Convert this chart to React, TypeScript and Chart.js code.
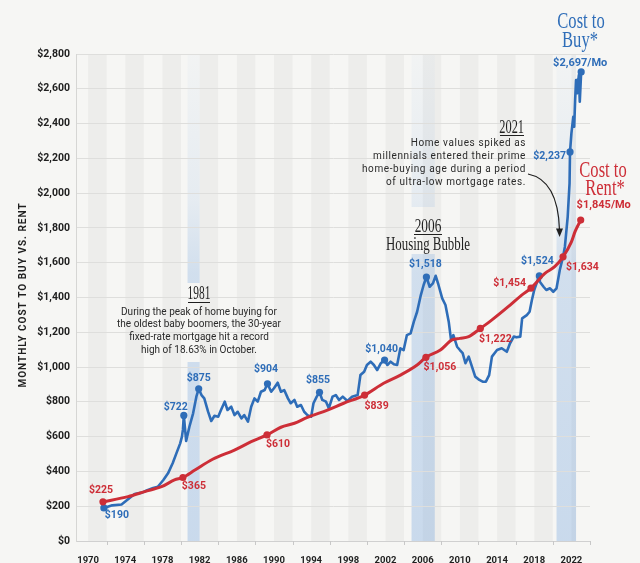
import React, { useEffect, useRef } from "react";
import { Chart, registerables } from "chart.js";

Chart.register(...registerables);

// ---------- DATA ----------
const buyYears = [
  1971.7, 1972.6, 1973.6, 1974.3, 1975.0, 1975.8, 1976.3, 1977.0, 1977.5, 1978.1,
  1978.6, 1979.1, 1979.5, 1979.9, 1980.1, 1980.2, 1980.3, 1980.55, 1980.9, 1981.3,
  1981.65, 1981.9, 1982.2, 1982.5, 1982.9, 1983.25, 1983.6, 1984.0, 1984.3, 1984.7,
  1985.0, 1985.4, 1985.75, 1986.1, 1986.5, 1986.8, 1987.2, 1987.55, 1987.9, 1988.25,
  1988.6, 1989.0, 1989.3, 1989.7, 1990.0, 1990.4, 1990.75, 1991.1, 1991.5, 1991.8,
  1992.2, 1992.5, 1992.9, 1993.25, 1993.6, 1994.0, 1994.25, 1994.6, 1994.9, 1995.2,
  1995.6, 1995.9, 1996.3, 1996.65, 1997.0, 1997.4, 1997.9, 1998.4, 1999.0, 1999.3,
  1999.7, 2000.0, 2000.4, 2000.75, 2001.1, 2001.5, 2001.9, 2002.2, 2002.55, 2002.9,
  2003.25, 2003.6, 2003.95, 2004.3, 2004.7, 2005.05, 2005.4, 2005.8, 2006.1, 2006.4,
  2006.75, 2007.1, 2007.4, 2007.7, 2008.1, 2008.45, 2008.8, 2009.05, 2009.3, 2009.7,
  2010.0, 2010.3, 2010.6, 2010.95, 2011.3, 2011.65, 2012.1, 2012.45, 2012.8, 2013.15,
  2013.45, 2014.0, 2014.5, 2015.05, 2015.4, 2015.8, 2016.1, 2016.5, 2016.7, 2017.2,
  2017.5, 2017.75, 2018.0, 2018.4, 2018.55, 2018.6, 2019.0, 2019.3, 2019.7, 2020.05,
  2020.4, 2020.75, 2021.1, 2021.3, 2021.6, 2021.8, 2021.85, 2022.0, 2022.2, 2022.3,
  2022.4, 2022.5, 2022.6, 2022.8, 2022.9, 2023.05,
];
const buyValues = [
  190, 205, 210, 240, 270, 278, 290, 305, 312, 351,
  389, 447, 504, 560, 600, 640, 722, 575, 657, 734,
  830, 875, 839, 820, 745, 690, 720, 715, 753, 801,
  753, 772, 724, 743, 705, 724, 686, 772, 820, 801,
  858, 868, 904, 858, 878, 910, 858, 868, 820, 792,
  811, 772, 782, 743, 724, 715, 792, 830, 855, 811,
  801, 763, 830, 839, 811, 830, 805, 830, 839, 954,
  973, 1012, 1031, 1012, 983, 1022, 1040, 1012, 1031, 1016,
  1012, 1108, 1098, 1184, 1194, 1261, 1318, 1414, 1472, 1518,
  1462, 1481, 1525, 1472, 1395, 1357, 1261, 1156, 1184, 1117,
  1098, 1080, 1022, 1060, 1002, 945, 926, 916, 916, 954,
  1060, 1098, 1108, 1088, 1137, 1175, 1171, 1175, 1280, 1299,
  1318, 1386, 1443, 1505, 1524, 1491, 1462, 1443, 1453, 1433,
  1453, 1558, 1634, 1692, 1864, 2056, 2237, 2344, 2439, 2382,
  2535, 2650, 2574, 2679, 2526, 2697,
];
const rentYears = [
  1971.6, 1974.3, 1976.1, 1977.9, 1979.3, 1980.2, 1981.5, 1983.4, 1985.75, 1987.55,
  1989.25, 1990.75, 1992.2, 1993.6, 1995.75, 1997.5, 1999.75, 2001.8, 2003.6, 2005.4,
  2006.35, 2007.9, 2009.15, 2010.0, 2010.95, 2012.2, 2013.45, 2015.2, 2016.65, 2017.65,
  2019.15, 2020.2, 2021.1, 2022.0, 2022.4, 2023.0,
];
const rentValues = [
  225, 255, 284, 312, 351, 365, 408, 470, 523, 571,
  610, 654, 677, 711, 753, 792, 839, 907, 954, 1012,
  1056, 1098, 1156, 1165, 1175, 1222, 1271, 1347, 1414, 1454,
  1539, 1577, 1634, 1720, 1780, 1845,
];
const buyMarkYears = [1971.7, 1980.3, 1981.9, 1989.3, 1994.9, 2001.9, 2006.4, 2018.55, 2021.85, 2023.05];
const buyMarkLabels = ["$190", "$722", "$875", "$904", "$855", "$1,040", "$1,518", "$1,524", "$2,237", "$2,697/Mo"];
const rentMarkYears = [1971.6, 1980.2, 1989.25, 1999.75, 2006.35, 2012.2, 2017.65, 2021.1, 2023.0];
const rentMarkLabels = ["$225", "$365", "$610", "$839", "$1,056", "$1,222", "$1,454", "$1,634", "$1,845/Mo"];
const yTickValues = [0, 200, 400, 600, 800, 1000, 1200, 1400, 1600, 1800, 2000, 2200, 2400, 2600, 2800];
const xTickYears = [1970, 1974, 1978, 1982, 1986, 1990, 1994, 1998, 2002, 2006, 2010, 2014, 2018, 2022];
const stripeStartYears = [1970, 1974, 1978, 1982, 1986, 1990, 1994, 1998, 2002, 2006, 2010, 2014, 2018, 2022];
const highlightStarts = [1980.7, 2004.8, 2020.4];
const highlightEnds = [1982.0, 2007.3, 2022.5];
const axisTitle = "MONTHLY COST TO BUY VS. RENT";
const note1981 = ["During the peak of home buying for", "the oldest baby boomers, the 30-year", "fixed-rate mortgage hit a record", "high of 18.63% in October."];
const note2021 = ["Home values spiked as", "millennials entered their prime", "home-buying age during a period", "of ultra-low mortgage rates."];

// ---------- STYLE ----------
const BG = "#f6f6f4";
const BLUE = "#2e6db8";
const RED = "#cd2e37";
const INK = "#1f1f1f";
const SANS = "Roboto, 'Liberation Sans', sans-serif";
const SERIF = "'Liberation Serif', 'DejaVu Serif', serif";

// gaps (pixel rows) in each highlight band, left for the annotation text
const bandGaps: [number, number][][] = [[[283, 362]], [[207, 254]], []];

// label placement (dx, dy, align) relative to each marked point
const buyLabelPlace: [number, number, CanvasTextAlign][] = [
  [13, 7.5, "center"], [-8, -8.5, "center"], [0, -10, "center"], [-1.5, -14, "center"], [-1.5, -12, "center"],
  [-3, -11, "center"], [-1, -13, "center"], [-2, -15, "center"], [-4, 4, "right"], [-1, -9, "center"],
];
const rentLabelPlace: [number, number, CanvasTextAlign][] = [
  [-2, -11, "center"], [11, 8.5, "center"], [11, 9, "center"], [12, 11, "center"], [14, 10, "center"],
  [15, 10.5, "center"], [-5, -5, "right"], [3, 11, "left"], [23, -15, "center"],
];

function serifText(ctx: CanvasRenderingContext2D, text: string, x: number, y: number, size: number, sx: number, color: string, align: CanvasTextAlign = "center") {
  ctx.save();
  ctx.translate(x, y);
  ctx.scale(sx, 1);
  ctx.font = `${size}px ${SERIF}`;
  ctx.fillStyle = color;
  ctx.textAlign = align;
  ctx.textBaseline = "alphabetic";
  ctx.fillText(text, 0, 0);
  ctx.restore();
}

function underline(ctx: CanvasRenderingContext2D, x1: number, x2: number, y: number) {
  ctx.save();
  ctx.strokeStyle = INK;
  ctx.lineWidth = 1;
  ctx.beginPath();
  ctx.moveTo(x1, y + 0.5);
  ctx.lineTo(x2, y + 0.5);
  ctx.stroke();
  ctx.restore();
}

const decor = {
  id: "decor",
  beforeDraw(chart: any) {
    const { ctx, chartArea: a, scales } = chart;
    const x = scales.x;
    ctx.save();
    ctx.fillStyle = BG;
    ctx.fillRect(0, 0, chart.width, chart.height);
    const clipRight = x.getPixelForValue(highlightEnds[highlightEnds.length - 1]);
    ctx.fillStyle = "rgba(0,0,0,0.036)";
    stripeStartYears.forEach((s) => {
      const l = x.getPixelForValue(s);
      const r = Math.min(x.getPixelForValue(s + 2), clipRight);
      if (r > l) ctx.fillRect(l, a.top, r - l, a.bottom - a.top);
    });
    const g = ctx.createLinearGradient(0, a.top, 0, a.bottom);
    g.addColorStop(0, "rgba(110,160,220,0.03)");
    g.addColorStop(0.3, "rgba(110,160,220,0.12)");
    g.addColorStop(0.45, "rgba(110,160,220,0.27)");
    g.addColorStop(1, "rgba(110,160,220,0.33)");
    ctx.fillStyle = g;
    highlightStarts.forEach((s, i) => {
      const l = x.getPixelForValue(s);
      const r = x.getPixelForValue(highlightEnds[i]);
      let top = a.top;
      bandGaps[i].forEach(([g0, g1]) => {
        ctx.fillRect(l, top, r - l, g0 - top);
        top = g1;
      });
      ctx.fillRect(l, top, r - l, a.bottom - top);
    });
    ctx.restore();
  },
  afterDraw(chart: any) {
    const { ctx, chartArea: a, scales } = chart;
    const x = scales.x, y = scales.y;
    ctx.save();

    // x-axis small ticks
    ctx.strokeStyle = "#c8c8c8";
    ctx.lineWidth = 1;
    for (let yr = 1972; yr <= 2024; yr += 4) {
      const px = Math.round(x.getPixelForValue(yr)) + 0.5;
      ctx.beginPath();
      ctx.moveTo(px, a.bottom);
      ctx.lineTo(px, a.bottom + 4);
      ctx.stroke();
    }

    // axis title
    ctx.save();
    ctx.translate(23, 295);
    ctx.rotate(-Math.PI / 2);
    ctx.font = `bold 10px ${SANS}`;
    (ctx as any).letterSpacing = "1px";
    ctx.fillStyle = INK;
    ctx.textAlign = "center";
    ctx.textBaseline = "middle";
    ctx.fillText(axisTitle, 0, 0);
    ctx.restore();

    // point labels
    ctx.textBaseline = "middle";
    buyMarkYears.forEach((yr, i) => {
      const idx = buyYears.indexOf(yr);
      const px = x.getPixelForValue(yr), py = y.getPixelForValue(buyValues[idx]);
      const [dx, dy, al] = buyLabelPlace[i];
      ctx.font = `bold ${buyMarkLabels[i].includes("/") ? 11 : 10.5}px ${SANS}`;
      ctx.fillStyle = BLUE;
      ctx.textAlign = al;
      ctx.fillText(buyMarkLabels[i], px + dx, py + dy);
    });
    rentMarkYears.forEach((yr, i) => {
      const idx = rentYears.indexOf(yr);
      const px = x.getPixelForValue(yr), py = y.getPixelForValue(rentValues[idx]);
      const [dx, dy, al] = rentLabelPlace[i];
      ctx.font = `bold ${rentMarkLabels[i].includes("/") ? 11 : 10.5}px ${SANS}`;
      ctx.fillStyle = RED;
      ctx.textAlign = al;
      ctx.fillText(rentMarkLabels[i], px + dx, py + dy);
    });

    // 1981 note
    serifText(ctx, "1981", 199, 299, 19, 0.6, INK);
    underline(ctx, 188, 210, 302);
    ctx.font = `10px ${SANS}`;
    ctx.fillStyle = "#2a2a2a";
    ctx.textAlign = "center";
    ctx.textBaseline = "middle";
    note1981.forEach((t, i) => ctx.fillText(t, 199, 312 + i * 12.8));

    // 2006 note
    serifText(ctx, "2006", 428, 232, 19, 0.7, INK);
    underline(ctx, 414, 442, 234);
    serifText(ctx, "Housing Bubble", 428, 250, 19.5, 0.66, INK);

    // 2021 note
    serifText(ctx, "2021", 524, 133, 19, 0.65, INK, "right");
    underline(ctx, 500, 524, 135);
    ctx.save();
    ctx.font = `10px ${SANS}`;
    (ctx as any).letterSpacing = "0.6px";
    ctx.fillStyle = "#2a2a2a";
    ctx.textAlign = "right";
    ctx.textBaseline = "middle";
    note2021.forEach((t, i) => ctx.fillText(t, 526, 143.5 + i * 13.1));
    ctx.restore();

    // arrow
    ctx.strokeStyle = INK;
    ctx.lineWidth = 1.2;
    ctx.beginPath();
    ctx.moveTo(528, 174);
    ctx.quadraticCurveTo(558, 180, 559.5, 230);
    ctx.stroke();
    ctx.fillStyle = INK;
    ctx.beginPath();
    ctx.moveTo(559.6, 237);
    ctx.lineTo(556, 228.5);
    ctx.lineTo(563, 228.5);
    ctx.closePath();
    ctx.fill();

    // series titles
    serifText(ctx, "Cost to", 581, 28, 23, 0.72, BLUE);
    serifText(ctx, "Buy*", 580, 47, 23, 0.72, BLUE);
    serifText(ctx, "Cost to", 603, 177, 23, 0.72, RED);
    serifText(ctx, "Rent*", 605, 195, 23, 0.72, RED);

    ctx.restore();
  },
};

export default function App() {
  const ref = useRef<HTMLCanvasElement | null>(null);
  useEffect(() => {
    if (!ref.current) return;
    const buySet = new Set(buyMarkYears);
    const rentSet = new Set(rentMarkYears);
    const chart = new Chart(ref.current, {
      type: "line",
      data: {
        datasets: [
          {
            label: "Cost to Rent",
            data: rentYears.map((yr, i) => ({ x: yr, y: rentValues[i] })),
            borderColor: RED,
            backgroundColor: RED,
            borderWidth: 3,
            cubicInterpolationMode: "monotone",
            pointRadius: (c: any) => (c.raw && rentSet.has(c.raw.x) ? 3.6 : 0),
            pointBorderWidth: 0,
            pointBackgroundColor: RED,
            order: 1,
          },
          {
            label: "Cost to Buy",
            data: buyYears.map((yr, i) => ({ x: yr, y: buyValues[i] })),
            borderColor: BLUE,
            backgroundColor: BLUE,
            borderWidth: 2.6,
            tension: 0,
            borderJoinStyle: "round",
            pointRadius: (c: any) => (c.raw && buySet.has(c.raw.x) ? 3.6 : 0),
            pointBorderWidth: 0,
            pointBackgroundColor: BLUE,
            order: 2,
          },
        ],
      },
      options: {
        animation: false,
        responsive: false,
        maintainAspectRatio: false,
        layout: { padding: { left: 0, right: 50, top: 54, bottom: 0 } },
        plugins: { legend: { display: false }, tooltip: { enabled: false } },
        scales: {
          x: {
            type: "linear",
            min: 1968.7,
            max: 2024,
            grid: { display: false },
            border: { display: true, color: "#d0d0d0" },
            afterBuildTicks: (s: any) => {
              s.ticks = xTickYears.map((v) => ({ value: v }));
            },
            afterFit: (s: any) => {
              s.height = 22;
            },
            ticks: {
              autoSkip: false,
              maxRotation: 0,
              padding: 6,
              color: INK,
              font: { family: SANS, weight: "bold", size: 9.5 },
              callback: (v: any) => String(v),
            },
          },
          y: {
            min: 0,
            max: 2800,
            afterBuildTicks: (s: any) => {
              s.ticks = yTickValues.map((v) => ({ value: v }));
            },
            afterFit: (s: any) => {
              s.width = 76;
            },
            grid: { color: "#dededc", drawTicks: false, lineWidth: 1 },
            border: { display: true, color: "#d6d6d4" },
            ticks: {
              padding: 6,
              color: INK,
              font: { family: SANS, weight: "bold", size: 10.5 },
              callback: (v: any) => "$" + Number(v).toLocaleString("en-US"),
            },
          },
        },
      },
      plugins: [decor],
    } as any);
    return () => chart.destroy();
  }, []);
  return (
    <div style={{ position: "absolute", left: 0, top: 0, width: 640, height: 563, background: BG }}>
      <canvas ref={ref} width={640} height={563} style={{ width: 640, height: 563, display: "block" }} />
    </div>
  );
}
